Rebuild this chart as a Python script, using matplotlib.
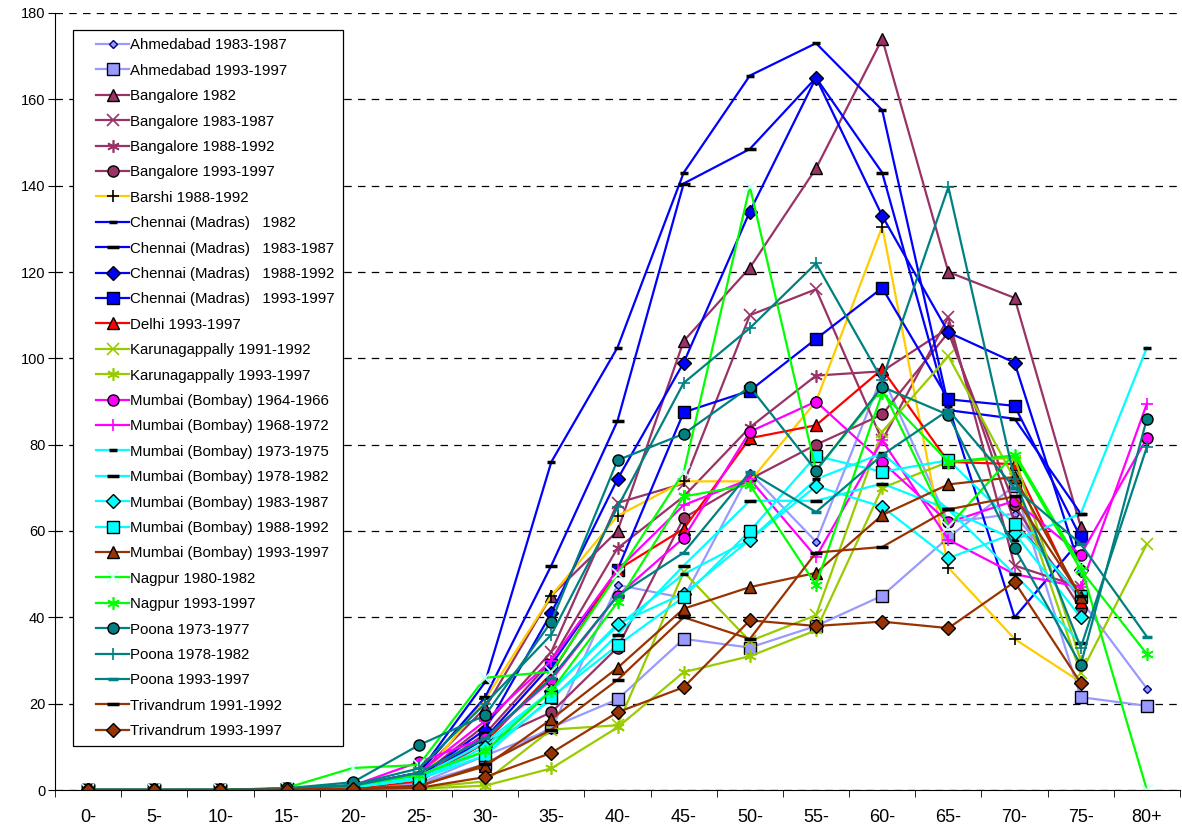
import matplotlib
matplotlib.use("Agg")
import matplotlib.pyplot as plt
import numpy as np
from matplotlib.legend_handler import HandlerLine2D
from matplotlib.lines import Line2D

nan = np.nan

# age groups on the x axis
age_groups = ["0-", "5-", "10-", "15-", "20-", "25-", "30-", "35-", "40-",
              "45-", "50-", "55-", "60-", "65-", "70-", "75-", "80+"]

# values, one list per registry/period
ahmedabad_8387 = [0, 0, 0, 0.3, 0.5, 1.5, 8, 14, 47.5, 44.5, 73.5, 57.5, 96, 62, 64, 44, 23.5]
ahmedabad_9397 = [0, 0, 0, 0.2, 0.4, 1.5, 6, 14.5, 21, 35, 33, 38, 45, 58.5, 70.5, 21.5, 19.5]
bangalore_1982 = [0, 0, 0, 0.3, 0.8, 3.5, 19, 45, 60, 104, 121, 144, 174, 120, 114, 61, nan]
bangalore_8387 = [0, 0, 0, 0.3, 0.7, 3, 15, 32, 66.5, 71, 110, 116, 81, 109.5, 52, 47, nan]
bangalore_8892 = [0, 0, 0, 0.3, 0.6, 2.5, 13, 30, 56, 68, 84, 96, 97, 107, 62, 45, nan]
bangalore_9397 = [0, 0, 0, 0.2, 0.5, 2, 11, 18, 33, 63, 72, 80, 87, 106, 66, 42, nan]
barshi_8892 = [0, 0, 0, 0.3, 0.5, 2, 21, 45, 63.5, 71.5, 71.5, 90, 130.5, 51.5, 35, 25, nan]
chennai_1982 = [0, 0, 0, 0.3, 1, 4, 25, 76, 102.5, 143, 165.5, 173, 157.5, 89, 40, 58, nan]
chennai_8387 = [0, 0, 0, 0.3, 1, 4, 21.5, 52, 85.5, 140.5, 148.5, 165, 143, 88, 86, 64, nan]
chennai_8892 = [0, 0, 0, 0.2, 0.8, 3, 14, 41, 72, 99, 134, 165, 133, 106, 99, 51, nan]
chennai_9397 = [0, 0, 0, 0.2, 0.6, 2.5, 12, 29, 51, 87.5, 92.5, 104.5, 116.3, 90.5, 89, 58.5, nan]
delhi_9397 = [0, 0, 0, 0.2, 0.5, 2, 11, 27, 51, 60.5, 81.5, 84.5, 97.5, 76, 75.5, 43.5, nan]
karuna_9192 = [0, 0, 0, 0, 0.2, 0.5, 2, 14, 15, 50.5, 34.5, 40.5, 83, 100.5, 72, 27, 57]
karuna_9397 = [0, 0, 0, 0, 0.1, 0.3, 1, 5, 14.5, 27.3, 31, 37, 70, 76, 77, 30, nan]
mumbai_6466 = [0, 0, 0, 0.3, 1, 6.5, 12, 25.5, 45, 58.4, 83, 90, 76, 62, 67, 54.5, 81.5]
mumbai_6872 = [0, 0, 0, 0.3, 1, 4, 16, 30, 51, 66, 72, 54, 81, 58, 50, 47, 89.5]
mumbai_7375 = [0, 0, 0, 0.2, 0.8, 3, 11, 23, 38, 50, 58, 72, 78, 65, 58, 64, 102.5]
mumbai_7882 = [0, 0, 0, 0.2, 0.7, 2.5, 9, 21, 36, 52, 67, 67, 71, 65, 50, 34, nan]
mumbai_8387 = [0, 0, 0, 0.2, 0.6, 2.5, 10, 23, 38.5, 45.5, 58, 70.4, 65.6, 53.7, 59.5, 40, nan]
mumbai_8892 = [0, 0, 0, 0.2, 0.6, 2.5, 8, 21.5, 33.5, 44.7, 60, 77.4, 73.7, 76.4, 61.6, 45, nan]
mumbai_9397 = [0, 0, 0, 0.1, 0.3, 1, 5.5, 16.4, 28.3, 42, 47, 50.3, 63.7, 70.8, 72.5, 44.7, nan]
nagpur_8082 = [0, 0, 0, 0.5, 5.1, 5.8, 26, 27.4, 50, 73.6, 139.8, 74, 93, 61, 78, 52, 0]
nagpur_9397 = [0, 0, 0, 0.3, 1, 3.5, 9, 23, 43.5, 68, 70.7, 47.5, 92, 76, 77.5, 51, 31.5]
poona_7377 = [0, 0, 0, 0.4, 1.8, 10.4, 17.3, 39, 76.4, 82.5, 93.4, 74, 93.4, 86.9, 56, 29, 86]
poona_7882 = [0, 0, 0, 0.3, 1.2, 5, 20, 36, 65.5, 94.3, 107, 122, 95, 139.7, 72, 33, 79.5]
poona_9397 = [0, 0, 0, 0.3, 1, 4, 12, 26, 45, 55, 73.6, 64.4, 77.6, 88, 70, 57, 35.5]
trivandrum_9192 = [0, 0, 0, 0.1, 0.3, 0.8, 6, 14, 25.5, 40, 35, 55, 56.3, 65, 68, 45, nan]
trivandrum_9397 = [0, 0, 0, 0, 0.2, 0.5, 3, 8.6, 18, 23.8, 39.3, 38, 39, 37.5, 48.2, 24.8, nan]

ASTERISK = (6, 2, 0)

# label, values, line colour, marker, marker face, marker edge, marker size
series = [
    ("Ahmedabad 1983-1987", ahmedabad_8387, "#9999FF", "D", "#9999FF", "#000080", 4),
    ("Ahmedabad 1993-1997", ahmedabad_9397, "#9999FF", "s", "#9999FF", "#000000", 8),
    ("Bangalore 1982", bangalore_1982, "#993366", "^", "#993366", "#000000", 8),
    ("Bangalore 1983-1987", bangalore_8387, "#993366", "x", "#993366", "#993366", 8),
    ("Bangalore 1988-1992", bangalore_8892, "#993366", ASTERISK, "#993366", "#993366", 9),
    ("Bangalore 1993-1997", bangalore_9397, "#993366", "o", "#993366", "#000000", 8),
    ("Barshi 1988-1992", barshi_8892, "#FFCC00", "+", "#000000", "#000000", 9),
    ("Chennai (Madras)   1982", chennai_1982, "#0000FF", "_", "#000000", "#000000", 6),
    ("Chennai (Madras)   1983-1987", chennai_8387, "#0000FF", "_", "#000000", "#000000", 9),
    ("Chennai (Madras)   1988-1992", chennai_8892, "#0000FF", "D", "#0000FF", "#000000", 7),
    ("Chennai (Madras)   1993-1997", chennai_9397, "#0000FF", "s", "#0000FF", "#000000", 8),
    ("Delhi 1993-1997", delhi_9397, "#FF0000", "^", "#FF0000", "#000000", 8),
    ("Karunagappally 1991-1992", karuna_9192, "#99CC00", "x", "#99CC00", "#99CC00", 8),
    ("Karunagappally 1993-1997", karuna_9397, "#99CC00", ASTERISK, "#99CC00", "#99CC00", 9),
    ("Mumbai (Bombay) 1964-1966", mumbai_6466, "#FF00FF", "o", "#FF00FF", "#000000", 8),
    ("Mumbai (Bombay) 1968-1972", mumbai_6872, "#FF00FF", "+", "#FF00FF", "#FF00FF", 9),
    ("Mumbai (Bombay) 1973-1975", mumbai_7375, "#00FFFF", "_", "#000000", "#000000", 6),
    ("Mumbai (Bombay) 1978-1982", mumbai_7882, "#00FFFF", "_", "#000000", "#000000", 9),
    ("Mumbai (Bombay) 1983-1987", mumbai_8387, "#00FFFF", "D", "#00FFFF", "#000000", 7),
    ("Mumbai (Bombay) 1988-1992", mumbai_8892, "#00FFFF", "s", "#00FFFF", "#000000", 8),
    ("Mumbai (Bombay) 1993-1997", mumbai_9397, "#993300", "^", "#993300", "#000000", 8),
    ("Nagpur 1980-1982", nagpur_8082, "#00FF00", "x", "#CCFFFF", "#CCFFFF", 8),
    ("Nagpur 1993-1997", nagpur_9397, "#00FF00", ASTERISK, "#00FF00", "#00FF00", 9),
    ("Poona 1973-1977", poona_7377, "#008080", "o", "#008080", "#000000", 8),
    ("Poona 1978-1982", poona_7882, "#008080", "+", "#008080", "#008080", 9),
    ("Poona 1993-1997", poona_9397, "#008080", "_", "#008080", "#008080", 7),
    ("Trivandrum 1991-1992", trivandrum_9192, "#993300", "_", "#000000", "#000000", 9),
    ("Trivandrum 1993-1997", trivandrum_9397, "#993300", "D", "#993300", "#000000", 7),
]

plt.rcParams["font.family"] = ["Liberation Sans", "DejaVu Sans"]

fig = plt.figure(figsize=(11.82, 8.31), dpi=100)
ax = fig.add_axes([55 / 1182, 1 - 790 / 831, 1125 / 1182, 777 / 831])

x = np.arange(len(age_groups))
for label, values, color, marker, face, edge, size in series:
    mew = 2.5 if marker == "_" else 1.0
    if marker in ("x", "+", ASTERISK):
        mew = 1.2
    ax.plot(x, values, color=color, lw=1.6, marker=marker, markersize=size,
            markerfacecolor=face, markeredgecolor=edge, markeredgewidth=mew,
            label=label)

ax.set_xlim(-0.5, len(age_groups) - 0.5)
ax.set_ylim(0, 180)
ax.set_yticks(np.arange(0, 181, 20))
ax.tick_params(axis="y", labelsize=10.5, direction="out", length=5, pad=2)

# category labels centred, tick marks between categories
ax.set_xticks(x)
ax.set_xticklabels(age_groups, fontsize=13)
ax.tick_params(axis="x", which="major", length=0, pad=14)
ax.set_xticks(np.arange(-0.5, len(age_groups), 1), minor=True)
ax.tick_params(axis="x", which="minor", direction="out", length=5)

ax.yaxis.grid(True, linestyle=(0, (6, 5)), color="black", lw=0.9)
ax.set_axisbelow(True)
for side in ("top", "right"):
    ax.spines[side].set_visible(False)

# inset the legend sample lines a little from the frame, like the original
leg = ax.legend(loc="upper left", bbox_to_anchor=(0.016, 0.978), borderaxespad=0,
                fontsize=10.8, handlelength=3.2, handletextpad=0.05,
                labelspacing=0.76, borderpad=0.55, fancybox=False, framealpha=1,
                handler_map={Line2D: HandlerLine2D(xpad=1.0)})
leg.get_frame().set_edgecolor("black")
leg.get_frame().set_linewidth(0.9)

fig.savefig("out.png", dpi=100)
